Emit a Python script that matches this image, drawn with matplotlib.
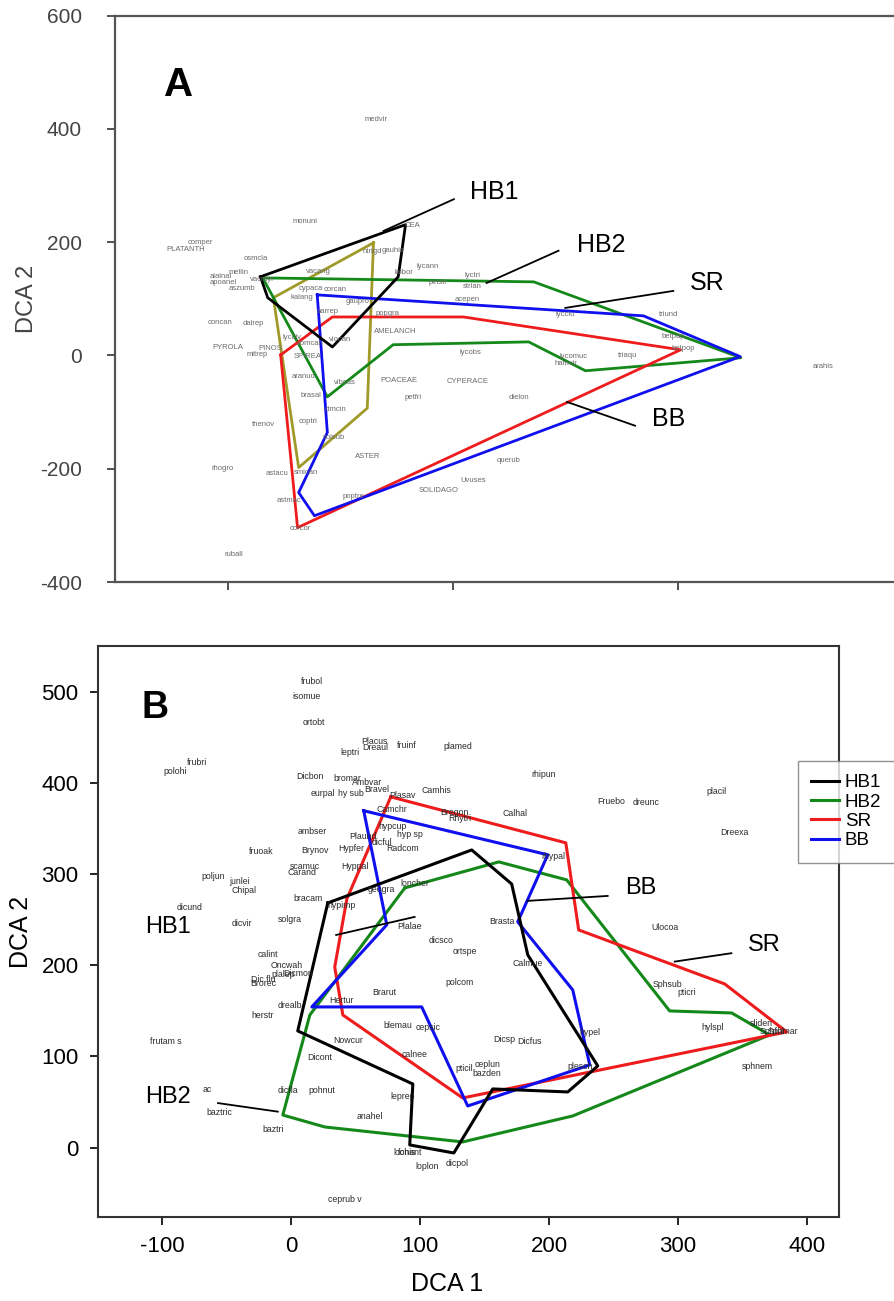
import numpy as np
import matplotlib
matplotlib.use("Agg")
import matplotlib.pyplot as plt

plt.rcParams['font.family'] = ['Liberation Sans', 'DejaVu Sans']
plt.rcParams['axes.unicode_minus'] = False

# ---------------- panel A data ----------------
hb1_a_x = [58, 71, 186, 303, 316]
hb1_a_y = [139, 102, 15, 139, 231]
olive_a_x = [259, 81, 126, 248]
olive_a_y = [199, 102, -198, -93]
hb2_a_x = [62, 544, 912, 636, 535, 294, 177]
hb2_a_y = [137, 130, -4, -27, 24, 19, -73]
sr_a_x = [94, 186, 419, 805, 124]
sr_a_y = [1, 68, 68, 10, -304]
bb_a_x = [159, 739, 911, 154, 126, 177]
bb_a_y = [107, 70, -2, -283, -242, -136]

species_a = ["medvir", "monuni", "CEA", "PLATANTH", "comper", "osmcla", "mellin",
             "alalnal", "apoanel", "aszumb", "vacang", "vacmyr", "cypaca", "corcan",
             "kalang", "gaupro", "ntrigd", "gauhis", "lycann", "laibor", "pinstr",
             "lyctri", "strian", "acepen", "lycobs", "lycclu", "triund", "betpap",
             "betpop", "triaqu", "lycomuc", "hamvir", "arahis", "CYPERACE", "POACEAE",
             "dielon", "petfri", "AMELANCH", "popgra", "viocan", "aarrep", "concan",
             "dalrep", "PYROLA", "mitrep", "PINOS", "lycclv", "SPIREA", "comcan",
             "aranud", "vibcas", "brasal", "cimcin", "coptri", "thenov", "solsub",
             "ASTER", "rhogro", "astacu", "smican", "astmac", "poptre", "SOLIDAGO",
             "Uvuses", "querub", "corcor", "ruball"]
species_a_x = [263, 138, 329, -75, -49, 49, 19, -13, -8, 26, 161, 62, 147, 191,
               132, 230, 257, 293, 355, 313, 373, 435, 435, 426, 431, 600, 783, 792,
               810, 711, 615, 602, 1059, 426, 304, 517, 330, 298, 284, 200, 177, -13,
               46, 1, 53, 76, 115, 142, 147, 135, 209, 147, 191, 143, 64, 188,
               248, -9, 88, 138, 108, 223, 375, 437, 499, 129, 10]
species_a_y = [416, 236, 229, 188, 199, 172, 147, 139, 128, 119, 148, 134, 119, 116,
               102, 95, 183, 185, 158, 146, 128, 142, 121, 98, 5, 72, 72, 33,
               12, 0, -2, -15, -20, -46, -45, -75, -75, 42, 75, 28, 77, 59,
               56, 14, 1, 12, 31, -1, 22, -38, -48, -71, -96, -117, -121, -145,
               -179, -200, -209, -207, -256, -249, -239, -221, -186, -306, -352]

# leader lines and group labels in panel A
lead_a_names = ["HB1", "HB2", "SR", "BB"]
lead_a_x0 = [277, 460, 600, 603]
lead_a_y0 = [220, 128, 84, -82]
lead_a_x1 = [402, 588, 792, 724]
lead_a_y1 = [276, 185, 114, -124]
lab_a_x = [431, 620, 822, 755]
lab_a_y = [289, 195, 128, -112]

# ---------------- panel B data ----------------
hb1_b_x = [28.3, 140.0, 171.0, 183.5, 237.8, 214.5, 156.3, 126.1, 91.9, 94.3, 5.0]
hb1_b_y = [268.3, 326.4, 289.1, 211.3, 89.6, 61.1, 64.4, -5.8, 3.0, 69.8, 128.0]
hb2_b_x = [88.1, 161.0, 213.7, 293.6, 341.7, 371.2, 218.4, 133.0, 26.0, -6.6, 14.4]
hb2_b_y = [284.8, 313.3, 293.6, 149.9, 147.7, 123.6, 34.8, 6.3, 22.7, 35.8, 145.5]
sr_b_x = [77.2, 213.0, 223.0, 336.3, 384.4, 133.0, 40.0, 33.7, 43.1]
sr_b_y = [384.6, 334.2, 238.7, 179.5, 126.9, 54.5, 145.5, 198.1, 272.7]
bb_b_x = [56.2, 199.0, 175.7, 218.4, 231.6, 136.9, 101.2, 15.9, 74.1]
bb_b_y = [369.4, 321.1, 247.6, 172.9, 90.7, 45.7, 154.3, 154.3, 244.3]

species_b = ["frubol", "isomue", "ortobt", "frubri", "polohi", "Dicbon", "eurpal",
             "hy sub", "ambser", "fruoak", "Brynov", "scamuc", "Carand", "poljun",
             "junlei", "Chipal", "bracam", "dicund", "dicvir", "solgra", "calint",
             "Oncwah", "plalep", "Dicmon", "Dic flu", "Brorec", "drealb", "herstr",
             "frutam s", "Dicont", "ac", "dicfla", "pohnut", "baztric", "baztri",
             "ceprub v", "anahel", "leprep", "loplon", "dicpol", "lochis", "fonant",
             "Nowcur", "calnee", "blemau", "cepsic", "Brarut", "Hertur", "Plalae",
             "dicsco", "ortspe", "polcom", "Brasta", "Calmue", "Dicsp", "Dicfus",
             "pticil", "ceplun", "bazden", "hypimp", "geogra", "loncher", "Placus",
             "Dreaul", "leptri", "fruinf", "plamed", "bromar", "Ambvar", "Bravel",
             "Plasav", "Camhis", "Camchr", "Bregon", "Rhytri", "Calhal", "rhipun",
             "hypcup", "hyp sp", "Plaund", "dicful", "Hypfer", "Radcom", "Hyppal",
             "rhypal", "Fruebo", "dreunc", "placil", "Dreexa", "Ulocoa", "Sphsub",
             "pticri", "hylspl", "sliden", "Sphful", "Sphmar", "sphnem", "hypel",
             "plesch"]
species_b_x = [15.9, 12.0, 17.5, -73.3, -90.4, 14.4, 24.4,
               46.2, 15.9, -23.7, 18.2, 10.5, 8.1, -60.9,
               -40.0, -36.9, 12.8, -78.7, -38.4, -1.2, -18.2,
               -3.5, -6.6, 5.0, -22.1, -22.1, -1.2, -22.1,
               -97.4, 22.1, -65.6, -2.7, 23.7, -55.5, -14.4,
               41.5, 60.9, 86.5, 105.1, 128.4, 88.0, 91.9,
               43.8, 95.8, 82.6, 105.9, 72.5, 39.2, 91.9,
               115.9, 134.6, 130.7, 163.3, 183.5, 164.9, 185.0,
               133.8, 152.4, 151.7, 39.2, 70.2, 95.8, 64.8,
               64.8, 45.4, 89.6, 129.2, 43.8, 58.6, 66.3,
               86.5, 112.9, 78.0, 126.8, 130.7, 173.4, 195.9,
               78.7, 91.9, 55.5, 70.2, 46.9, 86.5, 49.3,
               203.0, 248.6, 275.0, 330.1, 344.1, 289.8, 292.1,
               306.8, 327.0, 365.0, 372.8, 381.3, 361.9, 231.6,
               223.8]
species_b_y = [510.6, 494.2, 465.6, 421.8, 411.9, 406.4, 387.8,
               387.8, 346.2, 324.2, 325.3, 308.8, 301.2, 296.8,
               291.3, 281.5, 272.7, 262.9, 245.3, 249.7, 211.3,
               199.2, 189.4, 190.5, 183.9, 179.5, 155.4, 144.4,
               115.9, 99.4, 64.3, 62.2, 62.2, 39.1, 19.4,
               -57.3, 33.7, 55.6, -20.1, -16.8, -5.8, -5.8,
               117.0, 102.7, 133.4, 132.3, 169.6, 161.9, 242.0,
               226.6, 214.6, 180.6, 247.6, 201.5, 118.1, 115.9,
               86.3, 90.7, 80.8, 265.0, 282.6, 289.2, 445.0,
               439.0, 432.8, 440.5, 439.4, 404.3, 399.9, 392.2,
               385.6, 391.1, 370.3, 367.0, 360.4, 365.9, 408.7,
               351.6, 342.9, 340.7, 334.1, 327.5, 327.5, 307.8,
               318.8, 379.1, 378.0, 390.1, 345.1, 240.9, 178.4,
               169.6, 132.3, 135.6, 126.9, 126.9, 88.5, 125.8,
               88.5]

lead_b_names = ["HB1", "HB2", "BB", "SR"]
lead_b_x0 = [34.8, -56.9, 183.5, 297.5]
lead_b_y0 = [233.2, 48.9, 270.6, 204.0]
lead_b_x1 = [95.7, -10.5, 245.5, 341.5]
lead_b_y1 = [253.0, 39.5, 276.0, 213.2]
lab_b_x = [-113.4, -113.4, 258.7, 354.4]
lab_b_y = [242.0, 55.9, 284.4, 222.3]

groups = ["HB1", "HB2", "SR", "BB"]
colors = {"HB1": "black", "HB2": "#14891a", "SR": "#ee1c1c", "BB": "#1010ee"}
olive = "#a09a2a"


def closed(xs, ys):
    return list(xs) + [xs[0]], list(ys) + [ys[0]]


fig = plt.figure(figsize=(8.94, 13.01), dpi=100)

# ---------------- panel A ----------------
axA = fig.add_axes([115.3 / 894, 1 - 582 / 1301, 0.9123, (582 - 15.7) / 1301])
axA.set_xlim(-200, 1250)
axA.set_ylim(-400, 600)

for name, tx, ty in zip(species_a, species_a_x, species_a_y):
    axA.text(tx, ty, name, fontsize=5.5, color="#6a6a6a", ha="center", va="center")

lw_a = 2.0
axA.plot(*closed(olive_a_x, olive_a_y), color=olive, lw=lw_a)
axA.plot(*closed(hb2_a_x, hb2_a_y), color=colors["HB2"], lw=lw_a)
axA.plot(*closed(sr_a_x, sr_a_y), color=colors["SR"], lw=lw_a)
axA.plot(*closed(bb_a_x, bb_a_y), color=colors["BB"], lw=lw_a)
axA.plot(*closed(hb1_a_x, hb1_a_y), color=colors["HB1"], lw=lw_a)

for i in range(len(lead_a_names)):
    axA.plot([lead_a_x0[i], lead_a_x1[i]], [lead_a_y0[i], lead_a_y1[i]], color="black", lw=1.3)
    axA.text(lab_a_x[i], lab_a_y[i], lead_a_names[i], fontsize=18, ha="left", va="center")

axA.text(-87, 477, "A", fontsize=29, fontweight="bold", ha="center", va="center")

axA.set_yticks([-400, -200, 0, 200, 400, 600])
axA.set_xticks([0, 400, 800])
axA.set_xticklabels([])
axA.tick_params(axis="both", direction="out", length=6, width=1.3, colors="#444444",
                labelsize=15, labelcolor="#444444")
axA.tick_params(axis="y", pad=18)
for s in axA.spines.values():
    s.set_color("#555555")
    s.set_linewidth(1.6)
axA.set_ylabel("DCA 2", fontsize=17, color="#444444")
axA.yaxis.set_label_coords(-0.095, 0.5)

# ---------------- panel B ----------------
axB = fig.add_axes([98 / 894, 1 - 1217 / 1301, 741 / 894, 571 / 1301])
axB.set_xlim(-150, 425)
axB.set_ylim(-76, 550)

for name, tx, ty in zip(species_b, species_b_x, species_b_y):
    axB.text(tx, ty, name, fontsize=6.3, color="#2a2a2a", ha="center", va="center")

lw_b = 2.2
axB.plot(*closed(hb2_b_x, hb2_b_y), color=colors["HB2"], lw=lw_b)
axB.plot(*closed(sr_b_x, sr_b_y), color=colors["SR"], lw=lw_b)
axB.plot(*closed(bb_b_x, bb_b_y), color=colors["BB"], lw=lw_b)
axB.plot(*closed(hb1_b_x, hb1_b_y), color=colors["HB1"], lw=lw_b)

for i in range(len(lead_b_names)):
    axB.plot([lead_b_x0[i], lead_b_x1[i]], [lead_b_y0[i], lead_b_y1[i]], color="black", lw=1.3)
    axB.text(lab_b_x[i], lab_b_y[i], lead_b_names[i], fontsize=17, ha="left", va="center")

axB.text(-106, 482, "B", fontsize=27, fontweight="bold", ha="center", va="center")

axB.set_xticks([-100, 0, 100, 200, 300, 400])
axB.set_yticks([0, 100, 200, 300, 400, 500])
axB.tick_params(axis="both", direction="out", length=6, width=1.2, labelsize=16, pad=8)
for s in axB.spines.values():
    s.set_color("#333333")
    s.set_linewidth(1.5)
axB.set_xlabel("DCA 1", fontsize=18)
axB.set_ylabel("DCA 2", fontsize=18)
axB.xaxis.set_label_coords(0.471, -0.096)
axB.yaxis.set_label_coords(-0.088, 0.5)

handles = [plt.Line2D([], [], color=colors[g], lw=2.2) for g in groups]
leg = axB.legend(handles, groups, loc="upper left", bbox_to_anchor=(798 / 894, 1 - 761 / 1301),
                 bbox_transform=fig.transFigure, fontsize=13.5, frameon=True, fancybox=False,
                 handlelength=1.5, handletextpad=0.3, labelspacing=0.12, borderpad=0.7,
                 borderaxespad=0)
leg.get_frame().set_edgecolor("#777777")
leg.get_frame().set_linewidth(1.0)

fig.savefig("out.png", dpi=100)
